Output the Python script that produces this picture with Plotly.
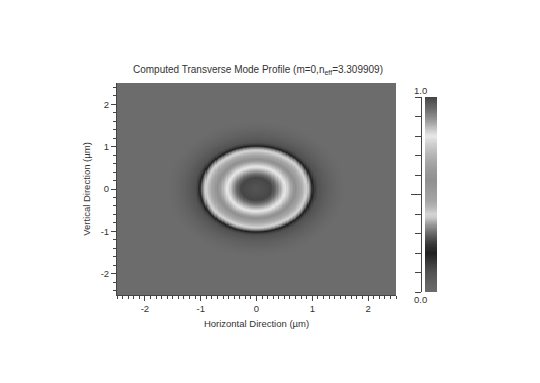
import numpy as np
import plotly.graph_objects as go

# Radial intensity profile of the mode
radius_um = [0.0, 0.15, 0.27, 0.34, 0.40, 0.46, 0.52, 0.58, 0.64, 0.70, 0.76, 0.82, 0.88,
             0.93, 0.97, 1.01, 1.05, 1.10, 1.20, 1.30, 1.40, 1.50, 1.60, 4.0]
intensity = [0.975, 0.985, 0.995, 0.95, 0.89, 0.84, 0.80, 0.74, 0.65, 0.57, 0.50, 0.45, 0.41,
             0.37, 0.32, 0.21, 0.14, 0.10, 0.07, 0.045, 0.025, 0.01, 0.0, 0.0]

# Gray-level colour map
cmap_pos = [0.0, 0.05, 0.10, 0.15, 0.20, 0.25, 0.30, 0.35, 0.38, 0.40, 0.43, 0.47, 0.52,
            0.57, 0.62, 0.67, 0.72, 0.76, 0.80, 0.83, 0.86, 0.90, 0.94, 0.97, 1.0]
cmap_gray = [0x6c, 0x60, 0x52, 0x3a, 0x20, 0x3a, 0x68, 0x9c, 0xc8, 0xd4, 0xba, 0xa4, 0x9a,
             0x90, 0x98, 0xa8, 0xbc, 0xd0, 0xe8, 0xcc, 0xac, 0x88, 0x6a, 0x58, 0x42]

x_ticks = [-2, -1, 0, 1, 2]
x_tick_labels = ["-2", "-1", "0", "1", "2"]
y_ticks = [-2, -1, 0, 1, 2]
y_tick_labels = ["-2", "-1", "0", "1", "2"]

colorscale = [[p, f"rgb({g},{g},{g})"] for p, g in zip(cmap_pos, cmap_gray)]

xs = np.linspace(-2.5, 2.5, 201)
ys = np.linspace(-2.5, 2.5, 201)
X, Y = np.meshgrid(xs, ys)
R = np.sqrt(X ** 2 + Y ** 2)
Z = np.interp(R, radius_um, intensity)

W, H = 540, 383
FONT = "Liberation Sans, Arial, sans-serif"
TXT = "#333333"
LINE = "#444444"

fig = go.Figure()
fig.add_trace(go.Heatmap(x=xs, y=ys, z=Z, zmin=0, zmax=1, colorscale=colorscale,
                         showscale=False, hoverinfo="skip"))

cb_vals = np.linspace(0, 1, 256)
fig.add_trace(go.Heatmap(x=[0.5], y=cb_vals, z=cb_vals.reshape(-1, 1), zmin=0, zmax=1,
                         colorscale=colorscale, showscale=False, xaxis="x2", yaxis="y2",
                         hoverinfo="skip"))

axis_common = dict(showline=True, linecolor=LINE, linewidth=1, ticks="outside",
                   tickcolor=LINE, showgrid=False, zeroline=False,
                   tickfont=dict(family=FONT, size=9.5, color=TXT))

fig.update_layout(
    width=W, height=H,
    margin=dict(l=0, r=0, t=0, b=0),
    paper_bgcolor="white", plot_bgcolor="white",
    font=dict(family=FONT, color=TXT),
    title=dict(text="Computed Transverse Mode Profile (m=0,n<sub>eff</sub>=3.309909)",
               x=258 / W, xref="paper", xanchor="center",
               y=1 - 69 / H, yref="container", yanchor="middle",
               font=dict(family=FONT, size=10, color=TXT)),
    xaxis=dict(domain=[117 / W, 396 / W], range=[-2.5, 2.5], anchor="y",
               tickvals=x_ticks, ticktext=x_tick_labels, ticklen=5,
               minor=dict(ticks="outside", dtick=0.1, tick0=0, ticklen=3, tickcolor=LINE),
               title=dict(text="Horizontal Direction (µm)", standoff=6,
                          font=dict(family=FONT, size=9.5, color=TXT)),
               **axis_common),
    yaxis=dict(domain=[1 - 295 / H, 1 - 83 / H], range=[-2.5, 2.5], anchor="x",
               tickvals=y_ticks, ticktext=y_tick_labels, ticklen=5,
               minor=dict(ticks="outside", dtick=0.2, tick0=0, ticklen=3, tickcolor=LINE),
               title=dict(text="Vertical Direction (µm)", standoff=8,
                          font=dict(family=FONT, size=9.5, color=TXT)),
               **axis_common),
    xaxis2=dict(domain=[425 / W, 437 / W], range=[0, 1], visible=False, anchor="y2"),
    yaxis2=dict(domain=[1 - 292 / H, 1 - 97 / H], range=[0, 1], anchor="free",
                position=421 / W, side="left", showline=True, linecolor=LINE,
                ticks="outside", tickvals=[round(i * 0.1, 1) for i in range(11)],
                ticklen=6, tickcolor=LINE, showticklabels=False,
                showgrid=False, zeroline=False),
    showlegend=False,
)

# longer middle tick on the colour bar
fig.add_shape(type="line", xref="paper", yref="y2", x0=411 / W, x1=421 / W, y0=0.5, y1=0.5,
              line=dict(color=LINE, width=1))

fig.add_annotation(text="1.0", xref="paper", yref="paper", x=420 / W, y=1 - 90 / H,
                   xanchor="center", yanchor="middle",
                   showarrow=False, font=dict(family=FONT, size=9.5, color=TXT))
fig.add_annotation(text="0.0", xref="paper", yref="paper", x=420 / W, y=1 - 299 / H,
                   xanchor="center", yanchor="middle",
                   showarrow=False, font=dict(family=FONT, size=9.5, color=TXT))

fig.write_html("out.html", config={"displayModeBar": False},
               post_script="document.body.style.margin='0px';document.body.style.overflow='hidden';")
